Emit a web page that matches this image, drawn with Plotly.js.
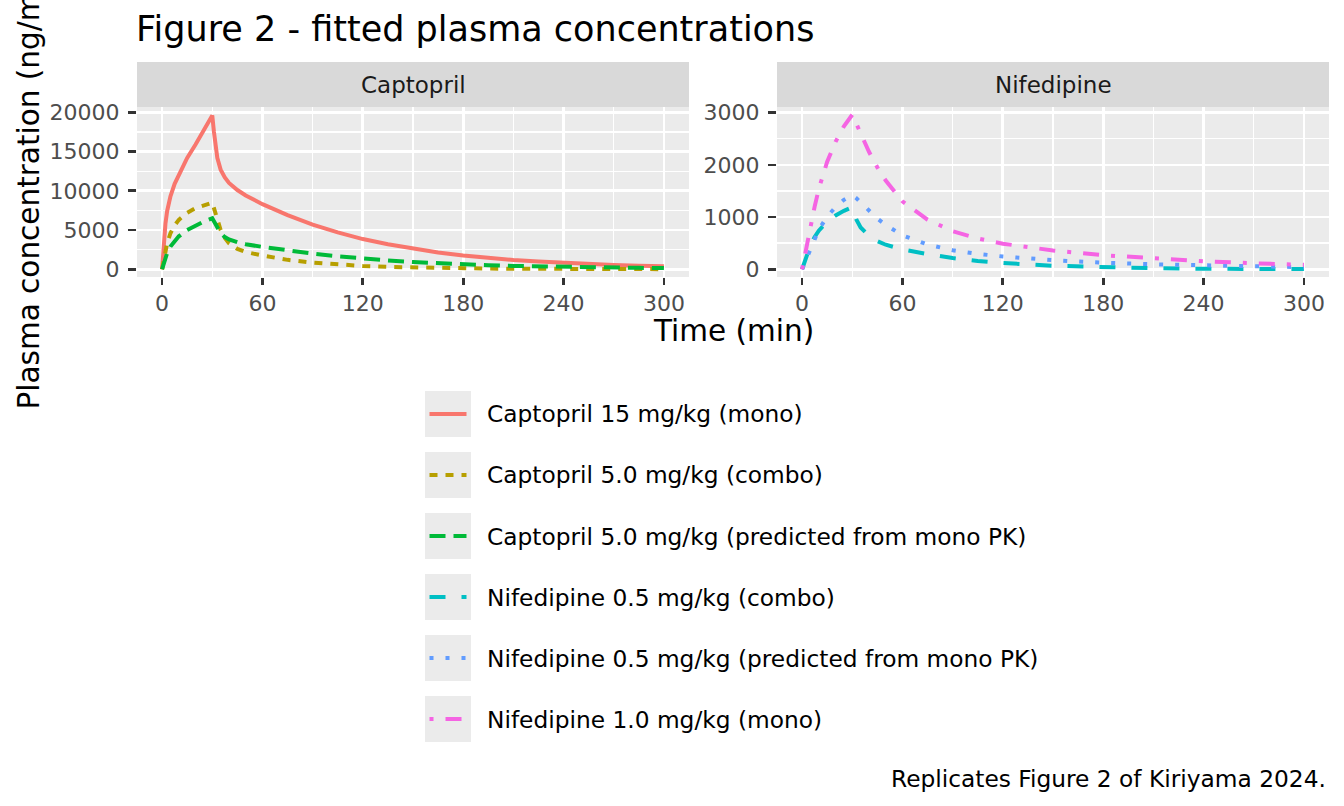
<!DOCTYPE html>
<html>
<head>
<meta charset="utf-8">
<script src="https://cdn.plot.ly/plotly-3.0.1.min.js"></script>
<style>
  html, body { margin: 0; padding: 0; background: #fff; }
  #chart { width: 1344px; height: 806px; }
</style>
</head>
<body>
<div id="chart"></div>
<script>
// ---------- data ----------
const captTime = [0, 1, 2, 3, 5, 7.5, 10, 15, 20, 25, 30, 31, 32, 33, 35, 37.5, 40, 45, 50, 60, 75, 90, 105, 120, 135, 150, 165, 180, 195, 210, 225, 240, 255, 270, 285, 300];
const capt15Mono = [0, 3500, 5800, 7400, 9300, 10900, 12100, 14200, 15900, 17700, 19600, 17500, 15600, 14200, 12700, 11700, 11000, 10100, 9400, 8300, 6900, 5700, 4700, 3850, 3200, 2620, 2150, 1760, 1450, 1190, 980, 800, 660, 545, 450, 370];
const capt5Combo = [0, 1300, 2400, 3300, 4600, 5600, 6300, 7200, 7800, 8200, 8500, 7800, 7000, 6200, 5000, 4000, 3300, 2600, 2200, 1750, 1200, 850, 600, 420, 300, 220, 160, 120, 90, 70, 52, 40, 32, 25, 20, 15];
const capt5Pred = [0, 800, 1500, 2050, 2900, 3600, 4200, 5000, 5600, 6100, 6500, 6100, 5600, 5200, 4600, 4100, 3800, 3450, 3200, 2850, 2400, 2000, 1650, 1350, 1120, 920, 760, 630, 520, 430, 360, 300, 250, 210, 180, 150];

const nifeTime = [0, 2.5, 5, 7.5, 10, 15, 20, 25, 30, 32.5, 35, 40, 45, 50, 60, 75, 90, 105, 120, 150, 180, 210, 240, 270, 300];
const nife05Combo = [0, 250, 460, 620, 740, 910, 1030, 1120, 1190, 950, 800, 640, 540, 470, 380, 290, 215, 160, 120, 68, 38, 20, 10, 5, 3];
const nife05Pred = [0, 200, 400, 590, 760, 1010, 1190, 1330, 1420, 1360, 1280, 1120, 970, 850, 650, 475, 365, 295, 245, 175, 125, 95, 72, 55, 40];
const nife10Mono = [0, 420, 830, 1200, 1540, 2060, 2440, 2740, 2960, 2780, 2600, 2250, 1950, 1700, 1300, 950, 730, 590, 490, 360, 270, 205, 155, 115, 85];

const seriesNames = [
  "Captopril 15 mg/kg (mono)",
  "Captopril 5.0 mg/kg (combo)",
  "Captopril 5.0 mg/kg (predicted from mono PK)",
  "Nifedipine 0.5 mg/kg (combo)",
  "Nifedipine 0.5 mg/kg (predicted from mono PK)",
  "Nifedipine 1.0 mg/kg (mono)"
];
const panelNames = ["Captopril", "Nifedipine"];
const xTicks = [0, 60, 120, 180, 240, 300];
const captTicks = [0, 5000, 10000, 15000, 20000];
const nifeTicks = [0, 1000, 2000, 3000];

// ---------- styles ----------
const colors = ["#F8766D", "#B79F00", "#00BA38", "#00BFC4", "#619CFF", "#F564E3"];
const dashes = ["solid", "8px,8px", "16px,8px", "16px,16px", "4px,12px", "4px,12px,16px,12px"];
const LW = 4;
const W = 1344, H = 806;
const px = x => x / W;
const py = y => 1 - y / H;
const FONT = "DejaVu Sans, sans-serif";

const seriesData = [
  { x: captTime, y: capt15Mono, ax: 1 },
  { x: captTime, y: capt5Combo, ax: 1 },
  { x: captTime, y: capt5Pred, ax: 1 },
  { x: nifeTime, y: nife05Combo, ax: 2 },
  { x: nifeTime, y: nife05Pred, ax: 2 },
  { x: nifeTime, y: nife10Mono, ax: 2 }
];

const traces = seriesData.map((s, i) => ({
  type: "scatter",
  mode: "lines",
  name: seriesNames[i],
  x: s.x,
  y: s.y,
  xaxis: s.ax === 1 ? "x" : "x2",
  yaxis: s.ax === 1 ? "y" : "y2",
  line: { color: colors[i], width: LW, dash: dashes[i] },
  showlegend: false,
  hoverinfo: "skip"
}));

const panelX = [[137, 689], [777, 1329]];
const panelY = [107, 277];
const stripY = [62, 107];

function xaxisDef(dom) {
  return {
    domain: [px(dom[0]), px(dom[1])],
    range: [-15, 315],
    tickvals: xTicks,
    ticktext: xTicks.map(String),
    ticks: "outside", ticklen: 7, tickwidth: 2.7, tickcolor: "#333333",
    tickfont: { family: FONT, size: 22, color: "#4D4D4D" },
    showgrid: true, gridcolor: "#FFFFFF", gridwidth: 2.7,
    minor: { tickvals: [30, 90, 150, 210, 270], showgrid: true, gridcolor: "#FFFFFF", gridwidth: 1.35, ticks: "" },
    zeroline: false, showline: false, automargin: false, fixedrange: true
  };
}
function yaxisDef(range, tv, minorTv, anchor) {
  return {
    domain: [py(panelY[1]), py(panelY[0])],
    range: range,
    anchor: anchor,
    tickvals: tv,
    ticktext: tv.map(String),
    ticks: "outside", ticklen: 8, tickwidth: 2.7, tickcolor: "#333333",
    ticklabelstandoff: 4,
    tickfont: { family: FONT, size: 22, color: "#4D4D4D" },
    showgrid: true, gridcolor: "#FFFFFF", gridwidth: 2.7,
    minor: { tickvals: minorTv, showgrid: true, gridcolor: "#FFFFFF", gridwidth: 1.35, ticks: "" },
    zeroline: false, showline: false, automargin: false, fixedrange: true
  };
}

const shapes = [];
const annotations = [];

// strips
panelX.forEach((p, i) => {
  shapes.push({
    type: "rect", xref: "paper", yref: "paper", layer: "below",
    x0: px(p[0]), x1: px(p[1]), y0: py(stripY[1]), y1: py(stripY[0]),
    fillcolor: "#D9D9D9", line: { width: 0 }
  });
  annotations.push({
    xref: "paper", yref: "paper", x: px((p[0] + p[1]) / 2), y: py((stripY[0] + stripY[1]) / 2),
    xanchor: "center", yanchor: "middle", showarrow: false,
    text: panelNames[i], font: { family: FONT, size: 23, color: "#1A1A1A" }
  });
});

// axis titles
annotations.push({
  xref: "paper", yref: "paper", x: px(733), y: py(331),
  xanchor: "center", yanchor: "middle", showarrow: false,
  text: "Time (min)", font: { family: FONT, size: 29.5, color: "#000000" }
});
annotations.push({
  xref: "paper", yref: "paper", x: px(28), y: py(412),
  xanchor: "center", yanchor: "bottom", showarrow: false, textangle: -90,
  text: "Plasma concentration (ng/mL)", font: { family: FONT, size: 29.5, color: "#000000" }
});

// caption
annotations.push({
  xref: "paper", yref: "paper", x: px(1328), y: py(778),
  xanchor: "right", yanchor: "middle", showarrow: false,
  text: "Replicates Figure 2 of Kiriyama 2024.", font: { family: FONT, size: 23.3, color: "#000000" }
});

// legend (manual, ggplot style keys)
const legTop = 391, legStep = 61, keyW = 46, keyH = 46, keyX = 425;
seriesNames.forEach((nm, i) => {
  const top = legTop + i * legStep;
  shapes.push({
    type: "rect", xref: "paper", yref: "paper",
    x0: px(keyX), x1: px(keyX + keyW), y0: py(top + keyH), y1: py(top),
    fillcolor: "#EBEBEB", line: { width: 0 }
  });
  shapes.push({
    type: "line", xref: "paper", yref: "paper",
    x0: px(keyX + 4.5), x1: px(keyX + keyW - 4.5), y0: py(top + keyH / 2), y1: py(top + keyH / 2),
    line: { color: colors[i], width: LW, dash: dashes[i] }
  });
  annotations.push({
    xref: "paper", yref: "paper", x: px(485), y: py(top + keyH / 2),
    xanchor: "left", yanchor: "middle", showarrow: false,
    text: nm, font: { family: FONT, size: 23.3, color: "#000000" }
  });
});

const layout = {
  width: W, height: H,
  margin: { l: 0, r: 0, t: 0, b: 0, pad: 0 },
  paper_bgcolor: "#FFFFFF",
  plot_bgcolor: "#EBEBEB",
  title: {
    text: "Figure 2 - fitted plasma concentrations",
    x: px(136), xref: "paper", xanchor: "left",
    y: py(29), yref: "container", yanchor: "middle",
    font: { family: FONT, size: 35, color: "#000000" }
  },
  xaxis: xaxisDef(panelX[0]),
  xaxis2: xaxisDef(panelX[1]),
  yaxis: yaxisDef([-985, 20685], captTicks, [2500, 7500, 12500, 17500], "x"),
  yaxis2: yaxisDef([-148, 3108], nifeTicks, [500, 1500, 2500], "x2"),
  shapes: shapes,
  annotations: annotations,
  showlegend: false,
  font: { family: FONT }
};
layout.xaxis.anchor = "y";
layout.xaxis2.anchor = "y2";

Plotly.newPlot("chart", traces, layout, { displayModeBar: false, staticPlot: true });
</script>
</body>
</html>
